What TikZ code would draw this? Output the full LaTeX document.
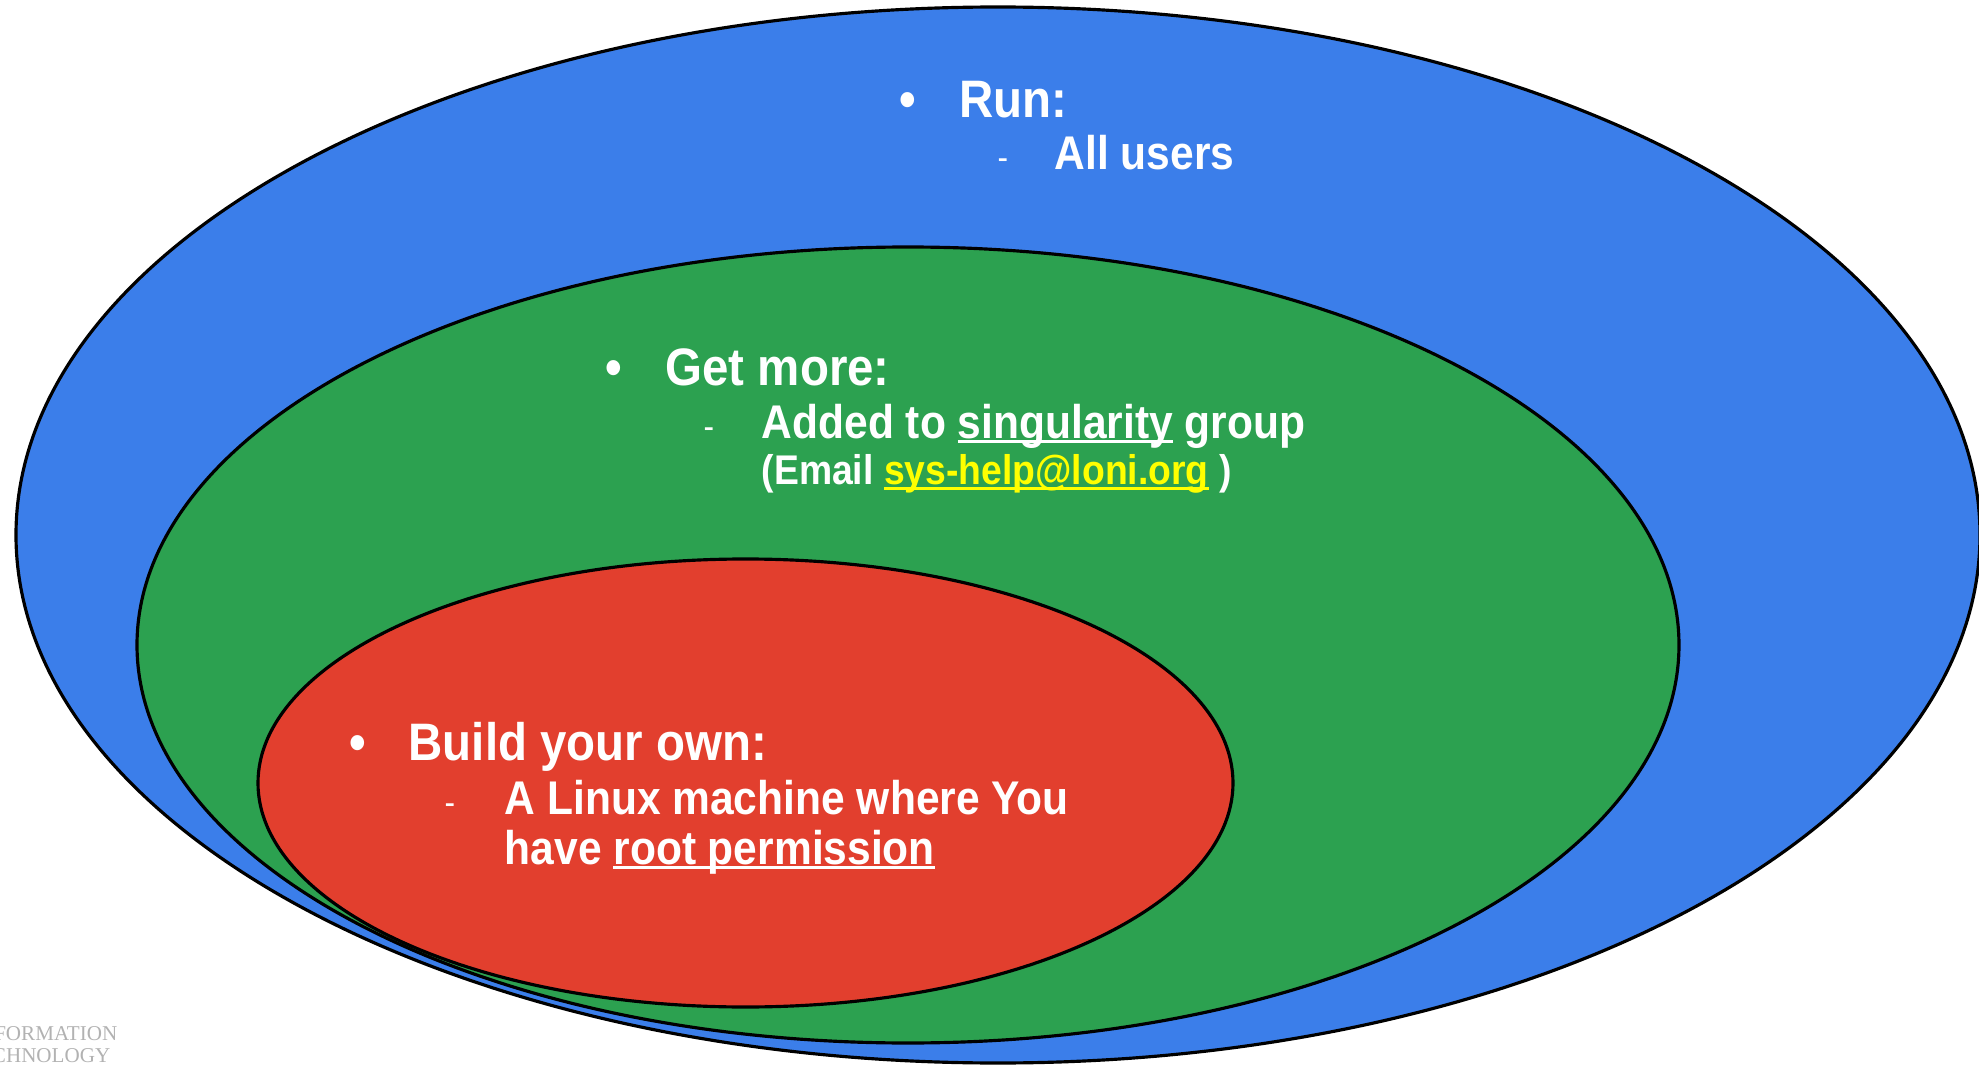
\documentclass[tikz,border=0pt]{standalone}
\usepackage{fontspec}
\usetikzlibrary{shapes.geometric}
\newfontfamily\slidefont[FakeStretch=0.9]{Liberation Sans}
\newfontfamily\logofont{Liberation Serif}
\definecolor{runblue}{RGB}{59,126,234}
\definecolor{moregreen}{RGB}{44,161,80}
\definecolor{buildred}{RGB}{226,63,46}
\definecolor{mailyellow}{RGB}{255,255,0}
\newsavebox\undrbox
\newcommand\undr[1]{\sbox\undrbox{#1}\rlap{\rule[-0.11em]{\wd\undrbox}{0.07em}}\usebox\undrbox}
\tikzstyle{zone}=[ellipse,draw=black,line width=0.9pt,inner sep=0pt]
\tikzstyle{head}=[anchor=base west,inner sep=0pt,text=white,font=\slidefont\bfseries\fontsize{15}{18}\selectfont]
\tikzstyle{item}=[head,font=\slidefont\bfseries\fontsize{13.45}{16}\selectfont]
\tikzstyle{mailline}=[head,font=\slidefont\bfseries\fontsize{11.8}{14}\selectfont]
\tikzstyle{bulletsign}=[head]
\tikzstyle{dashsign}=[anchor=base west,inner sep=0pt,text=white,font=\slidefont\fontsize{10}{12}\selectfont]
\tikzstyle{logo}=[anchor=base east,inner sep=0pt,text=black!30,font=\logofont\fontsize{6}{7}\selectfont]

\begin{document}
\begin{tikzpicture}
	\useasboundingbox (0,0) rectangle (19.79,10.67);
	\clip (0,0) rectangle (19.79,10.67);

	% First we draw the three nested zones
	\foreach \pos/\wid/\hei/\col/\name in {{(9.98,5.32)/19.64/10.56/runblue/run},
							{(9.08,4.22)/15.42/7.96/moregreen/more}, {(7.455,2.84)/9.75/4.48/buildred/build}}
	\node[zone,fill=\col,minimum width=\wid cm,minimum height=\hei cm] (\name) at \pos {};

	% Bullets and dashes
	\foreach \pos/\name in {{(8.99,9.49)/runbul}, {(6.05,6.82)/morebul}, {(3.49,3.07)/buildbul}}
	\node[bulletsign] (\name) at \pos {•};
	\foreach \pos/\name in {{(9.97,8.98)/rundash}, {(7.03,6.29)/moredash}, {(4.44,2.53)/builddash}}
	\node[dashsign] (\name) at \pos {-};

	% Then the texts
	\node[head] (runhead) at (9.59,9.49) {Run:};
	\node[item] (runitem) at (10.54,8.98) {All users};
	\node[head] (morehead) at (6.65,6.82) {Get more:};
	\node[item] (moreitem) at (7.61,6.29) {Added to \undr{singularity} group};
	\node[mailline] (moremail) at (7.61,5.82) {(Email \textcolor{mailyellow}{\undr{sys-help@loni.org}} )};
	\node[head] (buildhead) at (4.08,3.07) {Build your own:};
	\node[item] (builditem) at (5.04,2.53) {A Linux machine where You};
	\node[item] (buildmore) at (5.04,2.03) {have \undr{root permission}};

	\node[logo] (logoinfo) at (1.18,0.27) {INFORMATION};
	\node[logo] (logotech) at (1.11,0.05) {TECHNOLOGY};
\end{tikzpicture}
\end{document}
